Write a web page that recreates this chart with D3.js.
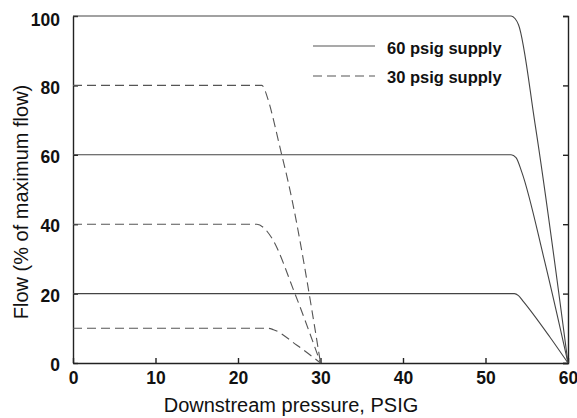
<!DOCTYPE html>
<html>
<head>
<meta charset="utf-8">
<script src="https://cdn.jsdelivr.net/npm/d3@7"></script>
<style>
  body { margin: 0; background: #fff; }
</style>
</head>
<body>
<div id="container"></div>
<script>
/* Taille du graphe */
var width = 577,
    height = 418;

/* Police */
var fontPolice = "'Liberation Sans', Arial, Helvetica, sans-serif";

/* Graduations */
const xTicks = [0, 10, 20, 30, 40, 50, 60];
const yTicks = [0, 20, 40, 60, 80, 100];

/* Courbes alimentation 60 psig (pression aval, % du débit max) */
const supply60_100 = [[0, 100], [53.1, 100], [53.6, 99.2], [54, 97.5], [56, 69], [60, 0]];
const supply60_60 = [[0, 60], [53.1, 60], [53.7, 59.2], [54.4, 55], [57.1, 30], [60, 0]];
const supply60_20 = [[0, 20], [53.5, 20], [54, 19.4], [54.6, 17.7], [57.8, 7.5], [60, 0]];

/* Courbes alimentation 30 psig */
const supply30_80 = [[0, 80], [22.9, 80], [23.2, 79], [23.5, 77], [25.3, 60], [26.1, 52], [30, 0]];
const supply30_40 = [[0, 40], [22.3, 40], [23.2, 38.8], [24.1, 36], [26.9, 20], [30, 0]];
const supply30_10 = [[0, 10], [23.6, 10], [24.3, 9.6], [27.1, 5.2], [30, 0]];

/* Légende */
const legendLabels = ["60 psig supply", "30 psig supply"];

const svg = d3.select("#container").append("svg")
  .attr("width", width)
  .attr("height", height);

const x = d3.scaleLinear().domain([0, 60]).range([73, 568]);
const y = d3.scaleLinear().domain([0, 100]).range([363, 16]);

const line = d3.line()
  .x(function(d) { return x(d[0]); })
  .y(function(d) { return y(d[1]); })
  .curve(d3.curveMonotoneX);

/**
 * Axes
**/
const xAxis = svg.append("g")
  .attr("transform", "translate(0," + y(0) + ")")
  .call(d3.axisBottom(x).tickValues(xTicks).tickSizeInner(-5).tickSizeOuter(0).tickPadding(9));

const yAxis = svg.append("g")
  .attr("transform", "translate(" + x(0) + ",0)")
  .call(d3.axisLeft(y).tickValues(yTicks).tickSizeInner(-5).tickSizeOuter(0).tickPadding(13));

/* Le libellé 100 est légèrement plus bas dans l'original */
yAxis.selectAll(".tick text")
  .attr("y", function(d) { return d == 100 ? 4 : 2; });

const rightAxis = svg.append("g")
  .attr("transform", "translate(" + x(60) + ",0)")
  .call(d3.axisLeft(y).tickValues(yTicks).tickSize(5).tickFormat(""));

svg.selectAll(".domain, .tick line")
  .style("stroke", "#222")
  .style("stroke-width", 1.4);

svg.selectAll(".tick text")
  .style("font-family", fontPolice)
  .style("font-size", "17.5px")
  .style("font-weight", "bold")
  .style("fill", "#111");

/* Titres des axes */
svg.append("text")
  .attr("x", 291)
  .attr("y", 412)
  .style("text-anchor", "middle")
  .style("font-family", fontPolice)
  .style("font-size", "20px")
  .style("fill", "#111")
  .text("Downstream pressure, PSIG");

svg.append("text")
  .attr("transform", "translate(28,202) rotate(-90)")
  .style("text-anchor", "middle")
  .style("font-family", fontPolice)
  .style("font-size", "20px")
  .style("fill", "#111")
  .text("Flow (% of maximum flow)");

/**
 * Courbes
**/
[supply60_100, supply60_60, supply60_20].forEach(function(d) {
  svg.append("path")
    .datum(d)
    .attr("d", line)
    .style("fill", "none")
    .style("stroke", "#444")
    .style("stroke-width", 1.1);
});

[supply30_80, supply30_40, supply30_10].forEach(function(d) {
  svg.append("path")
    .datum(d)
    .attr("d", line)
    .style("fill", "none")
    .style("stroke", "#555")
    .style("stroke-width", 1.1)
    .style("stroke-dasharray", "9,5");
});

/**
 * Légende
**/
const legend = svg.append("g");

legend.selectAll("line")
  .data(legendLabels)
  .enter().append("line")
    .attr("x1", 313)
    .attr("x2", 375)
    .attr("y1", function(d, i) { return 46 + i * 30; })
    .attr("y2", function(d, i) { return 46 + i * 30; })
    .style("stroke", "#555")
    .style("stroke-width", 1.1)
    .style("stroke-dasharray", function(d, i) { return i == 0 ? null : "9,5"; });

legend.selectAll("text")
  .data(legendLabels)
  .enter().append("text")
    .attr("x", 387)
    .attr("y", function(d, i) { return 54 + i * 29; })
    .style("font-family", fontPolice)
    .style("font-size", "16.5px")
    .style("font-weight", "bold")
    .style("fill", "#111")
    .text(function(d) { return d; });
</script>
</body>
</html>
